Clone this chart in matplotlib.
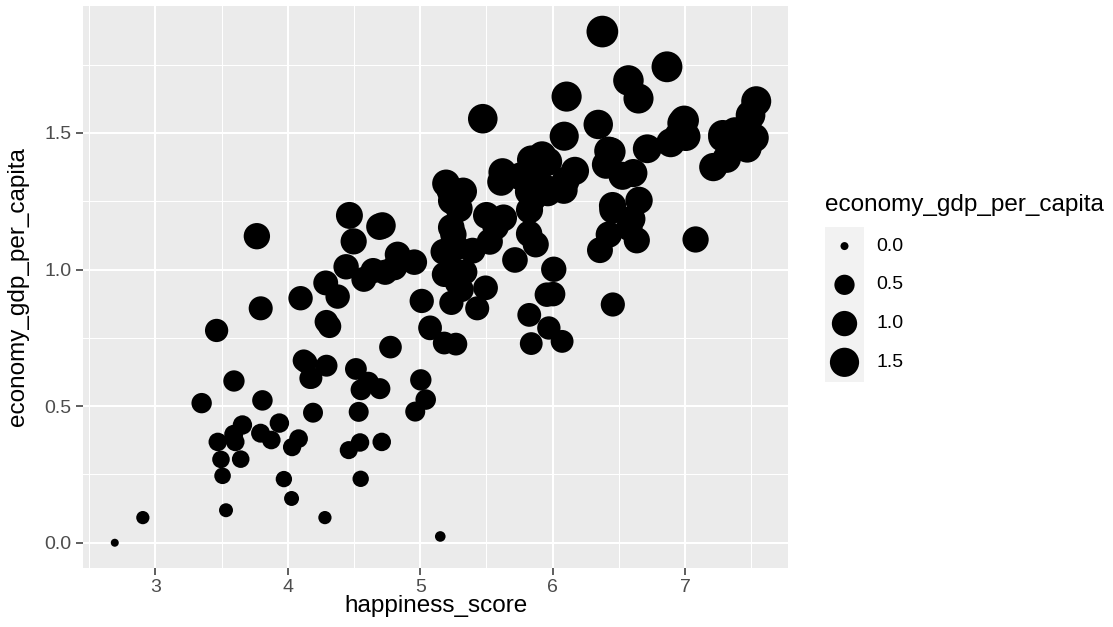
import numpy as np
import matplotlib
matplotlib.use("Agg")
from matplotlib import pyplot as plt

# World Happiness Report 2017: score vs. GDP per capita contribution
happiness_score = [
    7.537, 7.522, 7.504, 7.494, 7.469, 7.377, 7.316, 7.314, 7.284, 7.284,
    7.213, 7.079, 7.006, 6.993, 6.977, 6.951, 6.891, 6.863, 6.714, 6.652,
    6.648, 6.635, 6.609, 6.599, 6.578, 6.572, 6.527, 6.454, 6.454, 6.452,
    6.442, 6.424, 6.422, 6.403, 6.375, 6.357, 6.344, 6.168, 6.105, 6.098,
    6.087, 6.084, 6.071, 6.008, 6.003, 5.973, 5.971, 5.964, 5.963, 5.956,
    5.920, 5.902, 5.872, 5.850, 5.838, 5.838, 5.825, 5.823, 5.822, 5.819,
    5.810, 5.758, 5.715, 5.629, 5.621, 5.611, 5.569, 5.525, 5.500, 5.493,
    5.472, 5.430, 5.395, 5.336, 5.324, 5.311, 5.293, 5.279, 5.273, 5.269,
    5.262, 5.250, 5.237, 5.235, 5.234, 5.230, 5.227, 5.225, 5.195, 5.182,
    5.181, 5.175, 5.151, 5.074, 5.074, 5.041, 5.011, 5.004, 4.962, 4.955,
    4.829, 4.805, 4.775, 4.735, 4.714, 4.709, 4.695, 4.692, 4.644, 4.608,
    4.574, 4.553, 4.550, 4.545, 4.535, 4.514, 4.497, 4.465, 4.460, 4.440,
    4.376, 4.315, 4.292, 4.291, 4.286, 4.280, 4.190, 4.180, 4.168, 4.139,
    4.120, 4.096, 4.081, 4.032, 4.028, 3.970, 3.936, 3.875, 3.808, 3.795,
    3.794, 3.766, 3.657, 3.644, 3.603, 3.593, 3.591, 3.533, 3.507, 3.495,
    3.471, 3.462, 3.349, 2.905, 2.693,
]
economy_gdp_per_capita = [
    1.616, 1.482, 1.481, 1.565, 1.444, 1.504, 1.479, 1.406, 1.494, 1.484,
    1.375, 1.110, 1.487, 1.546, 1.536, 1.488, 1.464, 1.742, 1.442, 1.253,
    1.626, 1.107, 1.353, 1.185, 1.153, 1.692, 1.343, 1.218, 0.872, 1.234,
    1.431, 1.128, 1.434, 1.384, 1.871, 1.071, 1.531, 1.361, 1.633, 1.325,
    1.488, 1.291, 0.737, 1.001, 0.910, 1.292, 0.786, 1.395, 1.282, 0.908,
    1.417, 1.314, 1.092, 1.261, 1.402, 0.729, 1.218, 0.834, 1.131, 1.285,
    1.347, 1.341, 1.035, 1.189, 1.356, 1.321, 1.157, 1.102, 1.198, 0.933,
    1.552, 0.858, 1.069, 0.991, 1.286, 0.926, 1.223, 0.951, 1.081, 0.727,
    0.996, 1.128, 1.252, 0.878, 1.154, 1.079, 1.289, 1.075, 1.315, 0.982,
    0.731, 1.065, 0.023, 0.789, 0.784, 0.524, 0.885, 0.596, 0.480, 1.027,
    1.055, 1.007, 0.716, 0.990, 1.161, 0.369, 0.564, 1.157, 0.996, 0.587,
    0.964, 0.560, 0.234, 0.367, 0.479, 0.636, 1.103, 1.198, 0.339, 1.010,
    0.901, 0.792, 0.648, 0.809, 0.951, 0.092, 0.476, 0.603, 0.602, 0.660,
    0.667, 0.895, 0.381, 0.350, 0.162, 0.233, 0.438, 0.376, 0.521, 0.858,
    0.401, 1.122, 0.431, 0.306, 0.369, 0.592, 0.397, 0.119, 0.245, 0.305,
    0.369, 0.777, 0.511, 0.092, 0.000,
]
legend_breaks = [0.0, 0.5, 1.0, 1.5]

W, H = 1113, 627
DPI = 100
FONT = "Liberation Sans"
BG = "#EBEBEB"

x = np.array(happiness_score)
y = np.array(economy_gdp_per_capita)
gdp_max = y.max()


def size_to_area(v):
    # ggplot-style area scale: size 1..6 mapped with sqrt, then to marker area
    size = 1 + 5 * np.sqrt(np.asarray(v) / gdp_max)
    diam_px = 3.26 + 4.74 * size
    diam_pt = diam_px * 72 / DPI
    return diam_pt ** 2


def px_box(left, top, right, bottom):
    return [left / W, 1 - bottom / H, (right - left) / W, (bottom - top) / H]


plt.rcParams["font.family"] = [FONT, "DejaVu Sans"]
fig = plt.figure(figsize=(W / DPI, H / DPI), dpi=DPI)

ax = fig.add_axes(px_box(82.7, 6.0, 788.3, 568.3))
ax.set_facecolor(BG)
for s in ax.spines.values():
    s.set_visible(False)

ax.scatter(x, y, s=size_to_area(y), c="black", linewidths=0, zorder=3)

# 5% expansion on both axes
xr = x.max() - x.min()
yr = y.max() - y.min()
ax.set_xlim(x.min() - 0.05 * xr, x.max() + 0.05 * xr)
ax.set_ylim(y.min() - 0.05 * yr, y.max() + 0.05 * yr)

ax.set_xticks([3, 4, 5, 6, 7])
ax.set_yticks([0.0, 0.5, 1.0, 1.5])
ax.set_yticklabels(["0.0", "0.5", "1.0", "1.5"])
ax.set_xticks(np.arange(2.5, 8.0, 1.0), minor=True)
ax.set_yticks([0.25, 0.75, 1.25, 1.75], minor=True)
ax.grid(True, which="major", color="white", linewidth=1.5, zorder=1)
ax.grid(True, which="minor", color="white", linewidth=0.75, zorder=1)
ax.set_axisbelow(True)
ax.tick_params(which="major", length=4.7, width=1.1, color="#333333",
               labelsize=14, labelcolor="#4D4D4D", pad=3.2)
ax.tick_params(which="minor", length=0)

fig.text(435.5 / W, 1 - 606 / H, "happiness_score", fontsize=17.5,
         ha="center", va="center", color="black")
fig.text(18 / W, 1 - 287 / H, "economy_gdp_per_capita", fontsize=17.5,
         ha="center", va="center", rotation=90, color="black")

# size legend
fig.text(825 / W, 1 - 205 / H, "economy_gdp_per_capita", fontsize=17.5,
         ha="left", va="center", color="black")
lax = fig.add_axes(px_box(825, 226.7, 864, 381.7))
lax.set_facecolor("#F2F2F2")
for s in lax.spines.values():
    s.set_visible(False)
lax.set_xticks([])
lax.set_yticks([])
lax.set_xlim(0, 1)
lax.set_ylim(len(legend_breaks), 0)
pos = np.arange(len(legend_breaks)) + 0.5
lax.scatter(np.full(len(pos), 0.5), pos, s=size_to_area(legend_breaks),
            c="black", linewidths=0, clip_on=False)
for b, p in zip(legend_breaks, pos):
    yy = 226.7 + p * (381.7 - 226.7) / len(legend_breaks)
    fig.text(876 / W, 1 - yy / H, f"{b:.1f}", fontsize=14, ha="left",
             va="center", color="black")

fig.savefig("out.png", dpi=DPI)
